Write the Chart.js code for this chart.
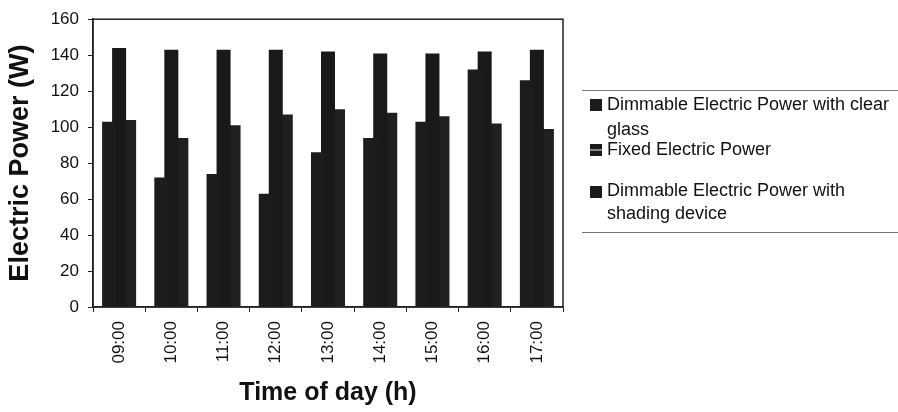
<!DOCTYPE html>
<html>
<head>
<meta charset="utf-8">
<script src="https://cdn.jsdelivr.net/npm/chart.js@4/dist/chart.umd.min.js"></script>
<style>
  body { margin: 0; background: #fff; }
  #wrap { position: relative; width: 898px; height: 412px; }
  #legend {
    position: absolute; left: 582px; top: 90px; width: 316px; height: 141px;
    border-top: 1px solid #777; border-bottom: 1px solid #777;
    font-family: "Liberation Sans", Arial, sans-serif; font-size: 18px; color: #111;
  }
  .item { position: absolute; left: 0; }
  .item .box { position: absolute; left: 8px; top: 7px; width: 12px; height: 12px; background: #1b1b1b; }
  .item .txt { position: absolute; left: 25px; white-space: nowrap; }
</style>
</head>
<body>
<div id="wrap">
  <canvas id="powerChart" width="898" height="412"></canvas>
  <div id="legend"></div>
</div>
<script>
/*=========================================
DATA
=========================================*/

const timeLabels = ["09:00", "10:00", "11:00", "12:00", "13:00", "14:00", "15:00", "16:00", "17:00"];

const dimmableClear = [103, 72, 74, 63, 86, 94, 103, 132, 126];

const fixedPower = [144, 143, 143, 143, 142, 141, 141, 142, 143];

const dimmableShading = [104, 94, 101, 107, 110, 108, 106, 102, 99];

const seriesLabels = [
  "Dimmable Electric Power with clear<br>glass",
  "Fixed Electric Power",
  "Dimmable Electric Power with<br>shading device"
];

const yTicks = [0, 20, 40, 60, 80, 100, 120, 140, 160];

/*=========================================
LEGEND
=========================================*/

const legendTops = [1, 46, 88];
const legendLine = [25, 25, 23];
const legendBox = ["#1b1b1b", "linear-gradient(#1b1b1b 0 40%, #888 40% 55%, #1b1b1b 55%)", "#1b1b1b"];

const legendEl = document.getElementById("legend");

seriesLabels.forEach((label, i) => {

  const item = document.createElement("div");
  item.className = "item";
  item.style.top = legendTops[i] + "px";
  item.style.lineHeight = legendLine[i] + "px";
  item.innerHTML = '<span class="box" style="background:' + legendBox[i] + '"></span><span class="txt">' + label + '</span>';
  legendEl.appendChild(item);

});

/*=========================================
CHART
=========================================*/

const plotBorder = {
  id: "plotBorder",
  afterDraw(chart) {
    const { ctx, chartArea: a } = chart;
    ctx.save();
    ctx.strokeStyle = "#222";
    ctx.lineWidth = 1.5;
    ctx.strokeRect(a.left, a.top, a.right - a.left, a.bottom - a.top);
    ctx.restore();
  }
};

const font = "'Liberation Sans', Arial, sans-serif";

new Chart(document.getElementById("powerChart"), {

  type: "bar",

  data: {

    labels: timeLabels,

    datasets: [
      { label: "Dimmable Electric Power with clear glass", data: dimmableClear, backgroundColor: "#1c1c1c" },
      { label: "Fixed Electric Power", data: fixedPower, backgroundColor: "#191919" },
      { label: "Dimmable Electric Power with shading device", data: dimmableShading, backgroundColor: "#202020" }
    ].map(ds => Object.assign(ds, {
      borderWidth: 0,
      categoryPercentage: 0.575,
      barPercentage: 1.4
    }))

  },

  options: {

    responsive: false,

    animation: false,

    layout: {
      padding: { top: 18, right: 335, left: 0, bottom: 0 }
    },

    plugins: {
      legend: { display: false },
      tooltip: { enabled: false }
    },

    scales: {

      x: {
        afterFit: scale => { scale.height = 105; },
        grid: { drawOnChartArea: false, tickLength: 5, color: "#222" },
        border: { color: "#222", width: 1.5 },
        ticks: {
          autoSkip: false, minRotation: 90, maxRotation: 90, padding: 9,
          color: "#111", font: { family: font, size: 17 }
        },
        title: {
          display: true, text: "Time of day (h)", color: "#111",
          font: { family: font, size: 25, weight: "bold" },
          padding: { top: 0, bottom: 4 }
        }
      },

      y: {
        min: 0,
        max: 160,
        afterFit: scale => { scale.width = 93; },
        afterBuildTicks: scale => { scale.ticks = yTicks.map(v => ({ value: v })); },
        grid: { drawOnChartArea: false, tickLength: 5, color: "#222" },
        border: { color: "#222", width: 1.5 },
        ticks: {
          padding: 9, color: "#111", font: { family: font, size: 17 }
        },
        title: {
          display: true, text: "Electric Power (W)", color: "#111",
          font: { family: font, size: 27, weight: "bold" },
          padding: { top: 4, bottom: 0 }
        }
      }

    }

  },

  plugins: [plotBorder]

});
</script>
</body>
</html>
